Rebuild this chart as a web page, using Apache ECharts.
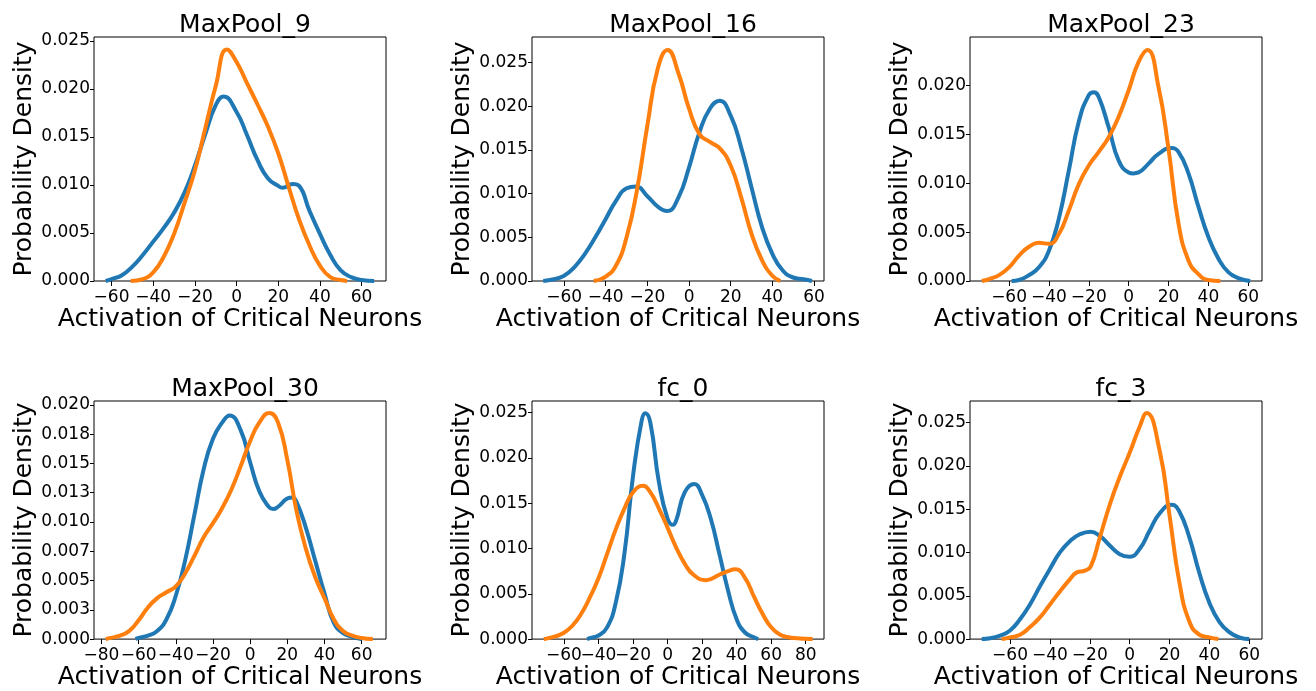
<!DOCTYPE html>
<html>
<head>
<meta charset="utf-8">
<script src="https://cdn.jsdelivr.net/npm/echarts@6/dist/echarts.min.js"></script>
<style>html,body{margin:0;padding:0;background:#fff}#c{width:1316px;height:691px}</style>
</head>
<body>
<div id="c"></div>
<script>
// ---------------- data ----------------
const titles = ['MaxPool_9','MaxPool_16','MaxPool_23','MaxPool_30','fc_0','fc_3'];

const mp9_blue_x = [-62.8,-60,-55,-50,-45,-40,-35,-30,-25,-20,-15,-10,-6.3,0,5,10,15,20,22,27,30,35,40,45,50,55,60,66];
const mp9_blue_y = [0,0.0002,0.0006,0.0015,0.0027,0.0041,0.0055,0.0071,0.0092,0.012,0.0153,0.0183,0.0192,0.0176,0.0152,0.0126,0.0107,0.0099,0.0097,0.0101,0.0099,0.0073,0.0049,0.0027,0.0011,0.0004,0.0001,0];
const mp9_orange_x = [-50.8,-45,-40,-35,-30,-25,-20,-15,-10,-4.6,0,5,10,15,20,25,30,35,40,45,50,53];
const mp9_orange_y = [0,0.0002,0.0009,0.0025,0.0049,0.0081,0.0115,0.0159,0.0203,0.0241,0.0228,0.0206,0.0184,0.0161,0.0133,0.0098,0.0064,0.0037,0.0016,0.0004,0.0001,0];

const mp16_blue_x = [-70,-65,-60,-55,-50,-45,-40,-35,-30,-25.5,-20,-15,-10.6,-5,0,5,10,14.7,20,25,30,35,40,45,50,55,59];
const mp16_blue_y = [0,0.0002,0.0006,0.0016,0.0031,0.005,0.0071,0.0092,0.0106,0.0108,0.0097,0.0085,0.008,0.0096,0.013,0.017,0.0197,0.0206,0.0189,0.0153,0.0107,0.0062,0.0031,0.0012,0.0004,0.0002,0];
const mp16_orange_x = [-45.8,-40,-35,-30,-25,-20,-15,-10.3,-5,0,5,10,15,20,25,30,35,40,43.8];
const mp16_orange_y = [0,0.0005,0.0018,0.005,0.0104,0.0178,0.0243,0.0264,0.0237,0.0197,0.0168,0.0159,0.0151,0.0132,0.0096,0.0054,0.0024,0.0006,0];

const mp23_blue_x = [-58.7,-55,-50,-45,-40,-35,-30,-25,-20,-17.4,-15,-10,-5,0,2.3,5,10,15,21.6,25,30,35,40,45,50,55,61];
const mp23_blue_y = [0,0.0001,0.0006,0.0014,0.0031,0.0064,0.0113,0.0163,0.019,0.0193,0.0188,0.0157,0.0123,0.0111,0.011,0.0111,0.012,0.013,0.0136,0.0132,0.011,0.0076,0.0045,0.0023,0.0009,0.0003,0];
const mp23_orange_x = [-73.7,-70,-65,-60,-55,-50,-45,-40,-35,-30,-25,-20,-15,-10,-5,0,5,9.4,15,20,25,30,35,40,46];
const mp23_orange_y = [0,0.0002,0.0006,0.0014,0.0026,0.0035,0.0039,0.0038,0.0048,0.0072,0.0099,0.0118,0.0132,0.0147,0.0168,0.0195,0.0224,0.0236,0.0198,0.0135,0.0059,0.0021,0.0007,0.0001,0];

const mp30_blue_x = [-61.6,-60,-55,-50,-45,-40,-35,-30,-25,-20,-15,-11,-5,0,5,10,12.3,15,20,22.7,25,30,35,40,45,50,55,60];
const mp30_blue_y = [0,0.0001,0.0003,0.0007,0.0017,0.0037,0.0067,0.0106,0.0145,0.0171,0.0185,0.0191,0.0178,0.0151,0.0126,0.0113,0.0111,0.0113,0.012,0.0121,0.0117,0.0095,0.0067,0.0039,0.0014,0.0005,0.0002,0];
const mp30_orange_x = [-77.7,-75,-70,-65,-60,-55,-50,-45,-40,-35,-30,-25,-20,-15,-10,-5,0,5,10.3,15,20,25,30,35,40,45,50,55,60,66];
const mp30_orange_y = [0,0.0001,0.0003,0.0007,0.0016,0.0027,0.0035,0.004,0.0045,0.0056,0.0071,0.0087,0.0099,0.0112,0.0128,0.0148,0.0169,0.0185,0.0193,0.0185,0.0153,0.0109,0.0077,0.0053,0.0035,0.0017,0.0007,0.0003,0.0001,0];

const fc0_blue_x = [-46.6,-45,-40,-35,-30,-25,-20,-15,-12.9,-10,-5,0,3.2,5,10,15.5,20,25,30,35,40,45,50,52.5];
const fc0_blue_y = [0,0.0001,0.0004,0.0013,0.004,0.0094,0.018,0.0241,0.0249,0.0239,0.0173,0.0133,0.0126,0.0131,0.0162,0.0171,0.0159,0.0133,0.0094,0.0054,0.0022,0.0007,0.0002,0];
const fc0_orange_x = [-71.7,-65,-60,-55,-50,-45,-40,-35,-30,-25,-20,-14.2,-10,-5,0,5,10,15,22.3,30,35,39.3,45,50,55,60,65,70,75,84];
const fc0_orange_y = [0,0.0003,0.0007,0.0015,0.0028,0.0046,0.0067,0.0094,0.0121,0.0144,0.0162,0.0169,0.0162,0.0144,0.0123,0.0101,0.0083,0.0071,0.0065,0.0071,0.0075,0.0077,0.0067,0.0047,0.0028,0.0013,0.0005,0.0002,0.0001,0];

const fc3_blue_x = [-74.2,-70,-65,-60,-55,-50,-45,-40,-35,-30,-25,-19.6,-15,-10,-5,0,5,10,15,21.1,25,30,35,40,45,50,55,60];
const fc3_blue_y = [0,0.0001,0.0004,0.001,0.0023,0.004,0.0061,0.0081,0.01,0.0113,0.0121,0.0124,0.0119,0.0108,0.0098,0.0095,0.0104,0.0125,0.0145,0.0155,0.0147,0.0117,0.0076,0.0042,0.002,0.0008,0.0002,0];
const fc3_orange_x = [-64.2,-60,-55,-50,-45,-40,-35,-30,-26.5,-22.5,-19.5,-15,-10,-5,0,5,8.5,15,20,25,30,35,40,44.5];
const fc3_orange_y = [0,0.0002,0.0005,0.0014,0.0025,0.004,0.0055,0.0069,0.0077,0.0079,0.0084,0.0117,0.0155,0.0187,0.0215,0.0245,0.0261,0.0218,0.0143,0.0065,0.002,0.0005,0.0002,0];

// tick values / labels
const xticks_a = [-60,-40,-20,0,20,40,60];
const xticks_b = [-80,-60,-40,-20,0,20,40,60];
const xticks_c = [-60,-40,-20,0,20,40,60,80];
const yticks_a = [0,0.005,0.01,0.015,0.02,0.025];
const yticks_b = [0,0.005,0.01,0.015,0.02];
const yticks_c = [0,0.0025,0.005,0.0075,0.01,0.0125,0.015,0.0175,0.02];
const ylabels_c = ['0.000','0.003','0.005','0.007','0.010','0.013','0.015','0.018','0.020'];

// axis ranges
const xranges = [[-68.4,71.7],[-75.4,64.8],[-79.6,66.9],[-84,73.1],[-78.5,90.6],[-80.1,66.4]];
const ymaxs = [0.0254,0.0279,0.02494,0.02033,0.02626,0.02748];

// ---------------- build ----------------
const blueSets = [[mp9_blue_x,mp9_blue_y],[mp16_blue_x,mp16_blue_y],[mp23_blue_x,mp23_blue_y],[mp30_blue_x,mp30_blue_y],[fc0_blue_x,fc0_blue_y],[fc3_blue_x,fc3_blue_y]];
const orangeSets = [[mp9_orange_x,mp9_orange_y],[mp16_orange_x,mp16_orange_y],[mp23_orange_x,mp23_orange_y],[mp30_orange_x,mp30_orange_y],[fc0_orange_x,fc0_orange_y],[fc3_orange_x,fc3_orange_y]];
const xtickSets = [xticks_a,xticks_a,xticks_a,xticks_b,xticks_c,xticks_a];
const ytickSets = [yticks_a,yticks_a,yticks_b,yticks_c,yticks_a,yticks_a];

const FONT = 'DejaVu Sans';
const lefts = [94,532,970];
const tops = [37,401];
const GW = 292, GH = 244;
const fmtX = v => String(v).replace('-', '\u2212');
const labelStyle = {fontFamily: FONT, fontSize: 17, color: '#000'};

const grid = [], xAxis = [], yAxis = [], series = [], title = [];
const xAxisExtra = [];
for (let i = 0; i < 6; i++) {
  const col = i % 3, row = Math.floor(i / 3);
  const L = lefts[col], T = tops[row];
  grid.push({left: L, top: T, width: GW, height: GH, show: true, borderColor: '#000', borderWidth: 1, backgroundColor: 'transparent'});
  title.push({text: titles[i], left: L + GW/2, top: row === 0 ? 8 : 372, textAlign: 'center',
    textStyle: {fontFamily: FONT, fontSize: 25, fontWeight: 'normal', color: '#000'}});
  const xt = xtickSets[i];
  const evenT = xt.filter((_, k) => k % 2 === 0), oddT = xt.filter((_, k) => k % 2 === 1);
  xAxis.push({type: 'value', gridIndex: i, position: 'bottom', min: xranges[i][0], max: xranges[i][1],
    name: 'Activation of Critical Neurons', nameLocation: 'middle', nameGap: 23,
    nameTextStyle: {fontFamily: FONT, fontSize: 25, color: '#000'},
    axisLine: {show: false, onZero: false}, splitLine: {show: false},
    axisTick: {show: true, length: 5, customValues: xt, lineStyle: {color: '#000', width: 1}},
    axisLabel: Object.assign({customValues: evenT, margin: 8, hideOverlap: false, showMinLabel: true, showMaxLabel: true, formatter: fmtX}, labelStyle)
  });
  // second label row (same scale) so adjacent labels are never dropped
  xAxisExtra.push({type: 'value', gridIndex: i, position: 'bottom', min: xranges[i][0], max: xranges[i][1],
    axisLine: {show: false, onZero: false}, splitLine: {show: false}, axisTick: {show: false},
    axisLabel: Object.assign({customValues: oddT, margin: 8, hideOverlap: false, showMinLabel: true, showMaxLabel: true, formatter: fmtX}, labelStyle)
  });
  const yl = ytickSets[i];
  yAxis.push({type: 'value', gridIndex: i, min: 0, max: ymaxs[i],
    name: 'Probability Density', nameLocation: 'middle', nameGap: 57,
    nameTextStyle: {fontFamily: FONT, fontSize: 25, color: '#000'},
    axisLine: {show: false, onZero: false}, splitLine: {show: false},
    axisTick: {show: true, length: 4, customValues: yl, lineStyle: {color: '#000', width: 1}},
    axisLabel: Object.assign({customValues: yl, margin: 4, hideOverlap: false,
      formatter: v => {
        if (yl === yticks_c) { const k = yticks_c.findIndex(t => Math.abs(t - v) < 1e-9); return k >= 0 ? ylabels_c[k] : ''; }
        return v.toFixed(3);
      }}, labelStyle)
  });
  const b = blueSets[i], o = orangeSets[i];
  series.push({type: 'line', xAxisIndex: i, yAxisIndex: i, smooth: 0.5, showSymbol: false,
    data: b[0].map((x, k) => [x, b[1][k]]), lineStyle: {color: '#1f77b4', width: 4}, itemStyle: {color: '#1f77b4'}});
  series.push({type: 'line', xAxisIndex: i, yAxisIndex: i, smooth: 0.5, showSymbol: false,
    data: o[0].map((x, k) => [x, o[1][k]]), lineStyle: {color: '#ff7f0e', width: 4}, itemStyle: {color: '#ff7f0e'}});
}

const chart = echarts.init(document.getElementById('c'), null, {renderer: 'canvas'});
chart.setOption({animation: false, backgroundColor: '#fff', title, grid, xAxis: xAxis.concat(xAxisExtra), yAxis, series});
</script>
</body>
</html>
